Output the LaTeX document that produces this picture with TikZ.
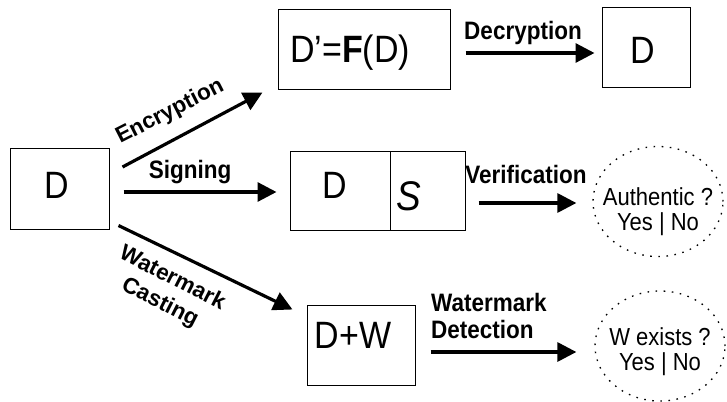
\documentclass[tikz,border=0pt]{standalone}
\usepackage{fontspec}
\setmainfont{Liberation Sans}
\usetikzlibrary{arrows.meta}
\usetikzlibrary{shapes.geometric}

\newcommand{\tallt}[1]{\scalebox{1}[1.12]{#1}}

\tikzset{
  box/.style={draw, line width=1pt, inner sep=0pt},
  big/.style={inner sep=0pt, font=\fontsize{34}{38}\selectfont},
  lbl/.style={inner sep=0pt, align=center, font=\bfseries\fontsize{22.5}{27}\selectfont},
  arr/.style={line width=3.2pt, -{Triangle[length=19pt,width=19pt]}},
  cloud/.style={draw, ellipse, line width=1.3pt, dash pattern=on 1.6pt off 6.5pt,
    minimum width=130pt, minimum height=110pt, inner sep=0pt},
  cloudtxt/.style={inner sep=0pt, align=center, font=\fontsize{22}{25}\selectfont},
}

\begin{document}
\begin{tikzpicture}[x=1pt, y=-1pt]
            \useasboundingbox (0, 0) rectangle (727, 401);

            % boxes
            \node[box, minimum width=99pt, minimum height=81pt] (d) at (59.5, 188.5) {};
            \node[box, minimum width=172pt, minimum height=80pt] (f) at (364, 50) {};
            \node[box, minimum width=88pt, minimum height=80pt] (dd) at (646, 48) {};
            \node[box, minimum width=100pt, minimum height=79pt] (dsl) at (340, 190.5) {};
            \node[box, minimum width=75pt, minimum height=79pt] (dsr) at (427.5, 190.5) {};
            \node[box, minimum width=108pt, minimum height=80pt] (dw) at (361, 345) {};

            \node[big] (dt) at (57, 185) {\tallt{D}};
            \node[big] (ft) at (350, 53) {\tallt{D’=\textbf{F}(D)}};
            \node[big] (ddt) at (642.5, 50.5) {\tallt{D}};
            \node[big] (dslt) at (335, 185.5) {\tallt{D}};
            \node[big, font=\itshape\fontsize{37}{40}\selectfont] (dsrt) at (409, 196) {\tallt{S}};
            \node[big] (dwt) at (353, 335) {\tallt{D+W}};

            % clouds
            \node[cloud] (auth) at (658, 201.5) {};
            \node[cloudtxt] (autht) at (658, 212) {\tallt{Authentic ?}\\\tallt{Yes | No}};
            \node[cloud] (wex) at (660, 346) {};
            \node[cloudtxt] (wext) at (660, 352) {\tallt{W exists ?}\\\tallt{Yes | No}};

            % arrows
            \draw[arr] ([xshift=13pt, yshift=21.5pt]d.east) -- ([xshift=-15pt, yshift=-2pt]f.south west);
            \draw[arr] ([xshift=14pt, yshift=-3.5pt]d.east) -- ([xshift=-13pt, yshift=-1.5pt]dsl.west);
            \draw[arr] ([xshift=9pt, yshift=4pt]d.south east) -- ([xshift=-14pt, yshift=-5pt]dw.north west);
            \draw[arr] ([xshift=15pt, yshift=-3pt]f.east) -- ([xshift=-7pt, yshift=-5pt]dd.west);
            \draw[arr] ([xshift=13pt, yshift=-12.5pt]dsr.east) -- ([xshift=-16pt, yshift=-1.5pt]auth.west);
            \draw[arr] ([xshift=15pt, yshift=-7pt]dw.east) -- ([xshift=-18pt, yshift=-6pt]wex.west);

            % labels
            \node[lbl, rotate=27] (enc) at (170, 112) {Encryption};
            \node[lbl, anchor=base] (sig) at (190, 178) {\tallt{Signing}};
            \node[lbl, rotate=-27] (wmc) at (166, 291) {Watermark\\Casting};
            \node[lbl, anchor=base] (dec) at (523, 40) {\tallt{Decryption}};
            \node[lbl, anchor=base] (ver) at (526, 183) {\tallt{Verification}};
            \node[lbl, align=left, anchor=north west] (det) at (431, 293) {\tallt{Watermark}\\\tallt{Detection}};
        \end{tikzpicture}
\end{document}
